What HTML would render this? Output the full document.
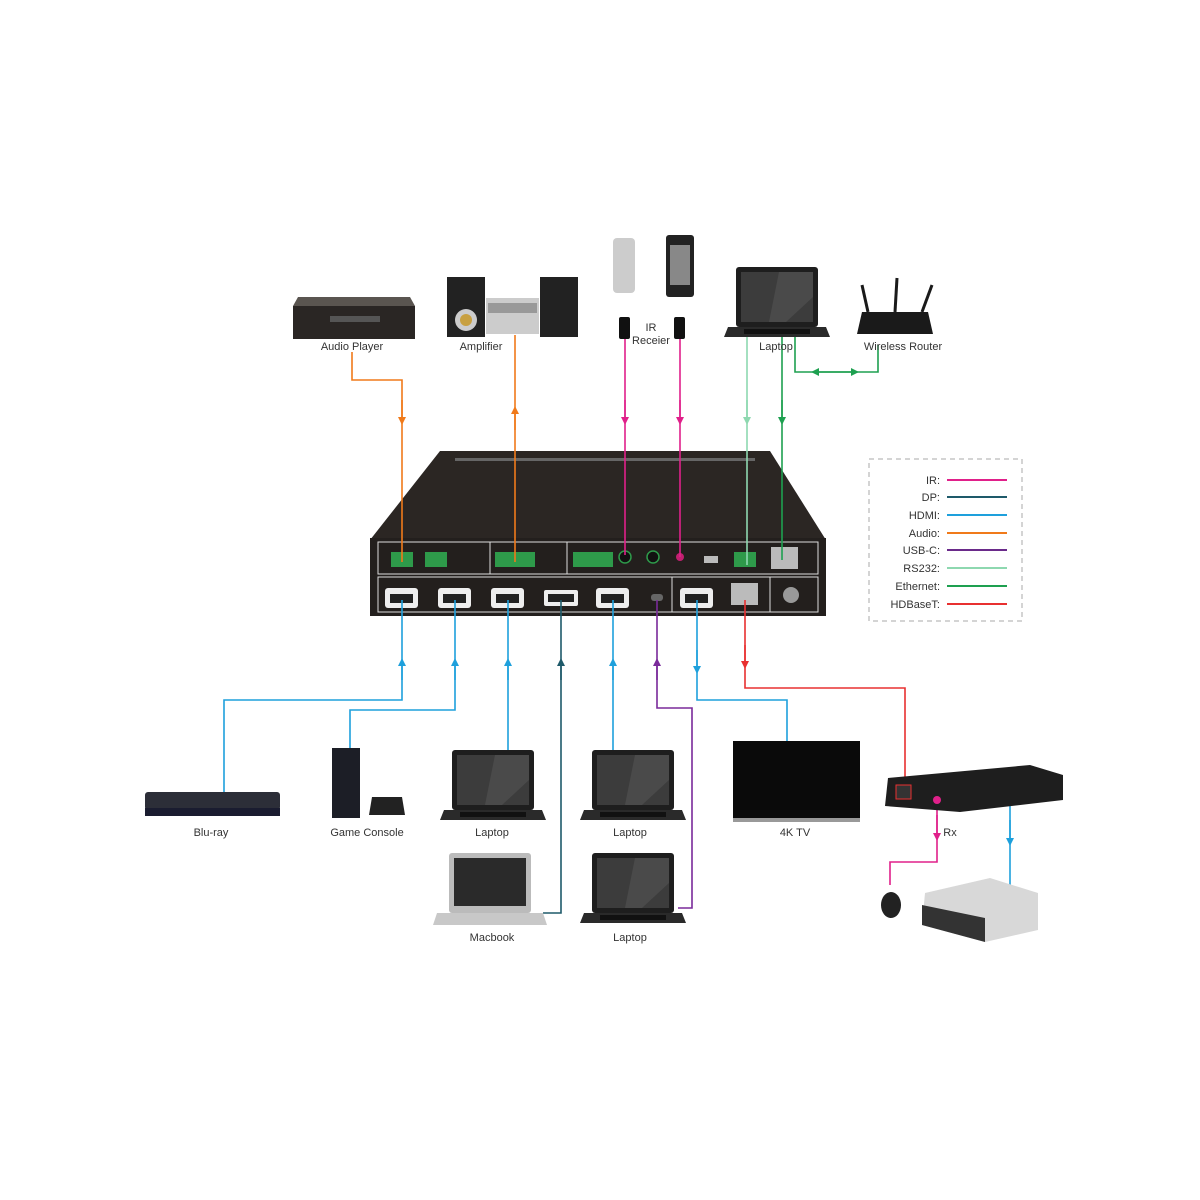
<!DOCTYPE html>
<html><head><meta charset="utf-8"><style>
html,body{margin:0;padding:0;background:#fff}
svg{display:block}
text{font-family:"Liberation Sans",sans-serif;font-size:11px;fill:#333}
</style></head><body>
<svg width="1200" height="1200" viewBox="0 0 1200 1200" xmlns="http://www.w3.org/2000/svg">
<defs>
<g id="lap">
<rect x="12" y="0" width="82" height="60" rx="3" fill="#1e1e1e"/>
<rect x="17" y="5" width="72" height="50" fill="#3c3c3c"/>
<polygon points="55,5 89,5 89,30 62,55 45,55" fill="#4a4a4a"/>
<polygon points="4,60 102,60 106,70 0,70" fill="#2a2a2a"/>
<rect x="20" y="62" width="66" height="5" fill="#111"/>
</g>
<marker id="a" viewBox="0 0 10 10" refX="5" refY="5" markerWidth="5" markerHeight="5" orient="auto"><path d="M0,0L10,5L0,10z" fill="context-stroke"/></marker>
</defs>

<!-- main device -->
<polygon points="440,451 770,451 826,540 370,540" fill="#2b2623"/>
<rect x="455" y="458" width="300" height="3" fill="#666"/>
<rect x="370" y="538" width="456" height="78" fill="#231f1d"/>
<rect x="378" y="542" width="440" height="32" fill="none" stroke="#ddd" stroke-width="1"/>
<rect x="378" y="577" width="440" height="35" fill="none" stroke="#ddd" stroke-width="1"/>
<line x1="490" y1="542" x2="490" y2="574" stroke="#ddd"/>
<line x1="567" y1="542" x2="567" y2="574" stroke="#ddd"/>
<line x1="672" y1="577" x2="672" y2="612" stroke="#ddd"/>
<line x1="770" y1="577" x2="770" y2="612" stroke="#ddd"/>
<g fill="#2e9a4a">
<rect x="391" y="552" width="22" height="15"/><rect x="425" y="552" width="22" height="15"/>
<rect x="495" y="552" width="40" height="15"/><rect x="573" y="552" width="40" height="15"/>
<rect x="734" y="552" width="22" height="15"/>
</g>
<circle cx="625" cy="557" r="6" fill="#111" stroke="#2e9a4a" stroke-width="1.5"/>
<circle cx="653" cy="557" r="6" fill="#111" stroke="#2e9a4a" stroke-width="1.5"/>
<circle cx="680" cy="557" r="4" fill="#c02070"/>
<rect x="704" y="556" width="14" height="7" fill="#bbb"/>
<rect x="771" y="547" width="27" height="22" fill="#bbb"/>
<rect x="731" y="583" width="27" height="22" fill="#bbb"/>
<circle cx="791" cy="595" r="8" fill="#999"/>
<g fill="#eee">
<rect x="385" y="588" width="33" height="20" rx="3"/><rect x="438" y="588" width="33" height="20" rx="3"/>
<rect x="491" y="588" width="33" height="20" rx="3"/><rect x="596" y="588" width="33" height="20" rx="3"/>
<rect x="680" y="588" width="33" height="20" rx="3"/>
<rect x="544" y="590" width="34" height="16" rx="2"/>
</g>
<g fill="#222"><rect x="390" y="594" width="23" height="9"/><rect x="443" y="594" width="23" height="9"/><rect x="496" y="594" width="23" height="9"/><rect x="601" y="594" width="23" height="9"/><rect x="685" y="594" width="23" height="9"/><rect x="548" y="594" width="26" height="8"/></g>
<rect x="651" y="594" width="12" height="7" rx="3" fill="#666"/>

<!-- connectors -->
<g fill="none" stroke-width="1.6">
<path d="M352,352V380H402V562" stroke="#f07a1a"/>
<line x1="402" y1="400" x2="402" y2="421" stroke="#f07a1a" marker-end="url(#a)"/>
<line x1="515" y1="335" x2="515" y2="562" stroke="#f07a1a"/>
<line x1="515" y1="430" x2="515" y2="410" stroke="#f07a1a" marker-end="url(#a)"/>
<line x1="625" y1="335" x2="625" y2="555" stroke="#e0208a"/>
<line x1="625" y1="400" x2="625" y2="421" stroke="#e0208a" marker-end="url(#a)"/>
<line x1="680" y1="335" x2="680" y2="557" stroke="#e0208a"/>
<line x1="680" y1="400" x2="680" y2="421" stroke="#e0208a" marker-end="url(#a)"/>
<line x1="747" y1="335" x2="747" y2="565" stroke="#8ed8b0"/>
<line x1="747" y1="400" x2="747" y2="421" stroke="#8ed8b0" marker-end="url(#a)"/>
<line x1="782" y1="335" x2="782" y2="560" stroke="#1ea050"/>
<line x1="782" y1="400" x2="782" y2="421" stroke="#1ea050" marker-end="url(#a)"/>
<path d="M795,335V372H878V345" stroke="#1ea050"/>
<line x1="835" y1="372" x2="815" y2="372" stroke="#1ea050" marker-end="url(#a)"/>
<line x1="835" y1="372" x2="855" y2="372" stroke="#1ea050" marker-end="url(#a)"/>

<path d="M402,600V700H224V795" stroke="#1ea0dc"/>
<line x1="402" y1="680" x2="402" y2="662" stroke="#1ea0dc" marker-end="url(#a)"/>
<path d="M455,600V710H350V752" stroke="#1ea0dc"/>
<line x1="455" y1="680" x2="455" y2="662" stroke="#1ea0dc" marker-end="url(#a)"/>
<line x1="508" y1="600" x2="508" y2="752" stroke="#1ea0dc"/>
<line x1="508" y1="680" x2="508" y2="662" stroke="#1ea0dc" marker-end="url(#a)"/>
<path d="M561,600V913H543" stroke="#1e5a6a"/>
<line x1="561" y1="680" x2="561" y2="662" stroke="#1e5a6a" marker-end="url(#a)"/>
<line x1="613" y1="600" x2="613" y2="752" stroke="#1ea0dc"/>
<line x1="613" y1="680" x2="613" y2="662" stroke="#1ea0dc" marker-end="url(#a)"/>
<path d="M657,600V708H692V908H678" stroke="#7a2a9a"/>
<line x1="657" y1="680" x2="657" y2="662" stroke="#7a2a9a" marker-end="url(#a)"/>
<path d="M697,600V700H787V742" stroke="#1ea0dc"/>
<line x1="697" y1="650" x2="697" y2="670" stroke="#1ea0dc" marker-end="url(#a)"/>
<path d="M745,600V688H905V790" stroke="#e83030"/>
<line x1="745" y1="645" x2="745" y2="665" stroke="#e83030" marker-end="url(#a)"/>
<line x1="1010" y1="770" x2="1010" y2="890" stroke="#1ea0dc"/>
<line x1="1010" y1="820" x2="1010" y2="842" stroke="#1ea0dc" marker-end="url(#a)"/>
<path d="M937,800V862H890V885" stroke="#e0208a"/>
<line x1="937" y1="815" x2="937" y2="837" stroke="#e0208a" marker-end="url(#a)"/>
</g>

<!-- top devices -->
<polygon points="298,297 410,297 415,306 293,306" fill="#5a5550"/>
<rect x="293" y="306" width="122" height="33" fill="#2a2624"/>
<rect x="330" y="316" width="50" height="6" fill="#555"/>
<rect x="447" y="277" width="38" height="60" fill="#222"/><circle cx="466" cy="320" r="11" fill="#ccc"/><circle cx="466" cy="320" r="6" fill="#c8a040"/>
<rect x="540" y="277" width="38" height="60" fill="#222"/>
<rect x="486" y="298" width="53" height="36" fill="#ccc"/><rect x="488" y="303" width="49" height="10" fill="#999"/>
<rect x="613" y="238" width="22" height="55" rx="4" fill="#ccc"/>
<rect x="666" y="235" width="28" height="62" rx="3" fill="#222"/><rect x="670" y="245" width="20" height="40" fill="#888"/>
<rect x="619" y="317" width="11" height="22" rx="2" fill="#111"/>
<rect x="674" y="317" width="11" height="22" rx="2" fill="#111"/>
<use href="#lap" transform="translate(724,267)"/>
<polygon points="862,312 928,312 933,334 857,334" fill="#1a1a1a"/>
<line x1="868" y1="312" x2="862" y2="285" stroke="#1a1a1a" stroke-width="3"/>
<line x1="895" y1="312" x2="897" y2="278" stroke="#1a1a1a" stroke-width="3"/>
<line x1="922" y1="312" x2="932" y2="285" stroke="#1a1a1a" stroke-width="3"/>

<!-- bottom devices -->
<rect x="145" y="792" width="135" height="18" rx="3" fill="#2c2e38"/>
<rect x="145" y="808" width="135" height="8" fill="#1a1c30"/>
<rect x="332" y="748" width="28" height="70" fill="#1c1e26"/>
<path d="M372,797h30l3,18h-36z" fill="#222"/>
<use href="#lap" transform="translate(440,750)"/>
<use href="#lap" transform="translate(580,750)"/>
<use href="#lap" transform="translate(580,853)"/>
<g transform="translate(437,853)">
<rect x="12" y="0" width="82" height="60" rx="3" fill="#bbb"/>
<rect x="17" y="5" width="72" height="48" fill="#2a2a2a"/>
<polygon points="0,60 106,60 110,72 -4,72" fill="#c8c8c8"/>
</g>
<rect x="733" y="741" width="127" height="77" fill="#0a0a0a"/>
<rect x="733" y="818" width="127" height="4" fill="#999"/>
<polygon points="888,778 1030,765 1063,775 1063,800 960,812 885,806" fill="#1e1e1e"/>
<rect x="896" y="785" width="15" height="14" fill="#333" stroke="#e83030"/>
<circle cx="937" cy="800" r="4" fill="#e0208a"/>
<polygon points="925,893 990,878 1038,893 1038,930 985,942 922,925" fill="#d8d8d8"/>
<polygon points="922,905 985,918 985,942 922,925" fill="#333"/>
<ellipse cx="891" cy="905" rx="10" ry="13" fill="#222"/>

<!-- labels -->
<g text-anchor="middle">
<text x="352" y="350">Audio Player</text>
<text x="481" y="350">Amplifier</text>
<text x="651" y="331">IR</text>
<text x="651" y="344">Receier</text>
<text x="776" y="350">Laptop</text>
<text x="903" y="350">Wireless Router</text>
<text x="211" y="836">Blu-ray</text>
<text x="367" y="836">Game Console</text>
<text x="492" y="836">Laptop</text>
<text x="630" y="836">Laptop</text>
<text x="795" y="836">4K TV</text>
<text x="950" y="836">Rx</text>
<text x="492" y="941">Macbook</text>
<text x="630" y="941">Laptop</text>
</g>

<!-- legend -->
<rect x="869" y="459" width="153" height="162" fill="none" stroke="#aaa" stroke-dasharray="5,4"/>
<g text-anchor="end">
<text x="940" y="484">IR:</text><text x="940" y="501">DP:</text><text x="940" y="519">HDMI:</text>
<text x="940" y="537">Audio:</text><text x="940" y="554">USB-C:</text><text x="940" y="572">RS232:</text>
<text x="940" y="590">Ethernet:</text><text x="940" y="608">HDBaseT:</text>
</g>
<g stroke-width="2">
<line x1="947" y1="480" x2="1007" y2="480" stroke="#e0208a"/>
<line x1="947" y1="497" x2="1007" y2="497" stroke="#1e5a6a"/>
<line x1="947" y1="515" x2="1007" y2="515" stroke="#1ea0dc"/>
<line x1="947" y1="533" x2="1007" y2="533" stroke="#f07a1a"/>
<line x1="947" y1="550" x2="1007" y2="550" stroke="#6a2a8a"/>
<line x1="947" y1="568" x2="1007" y2="568" stroke="#8ed8b0"/>
<line x1="947" y1="586" x2="1007" y2="586" stroke="#1ea050"/>
<line x1="947" y1="604" x2="1007" y2="604" stroke="#e83030"/>
</g>
</svg>
</body></html>
